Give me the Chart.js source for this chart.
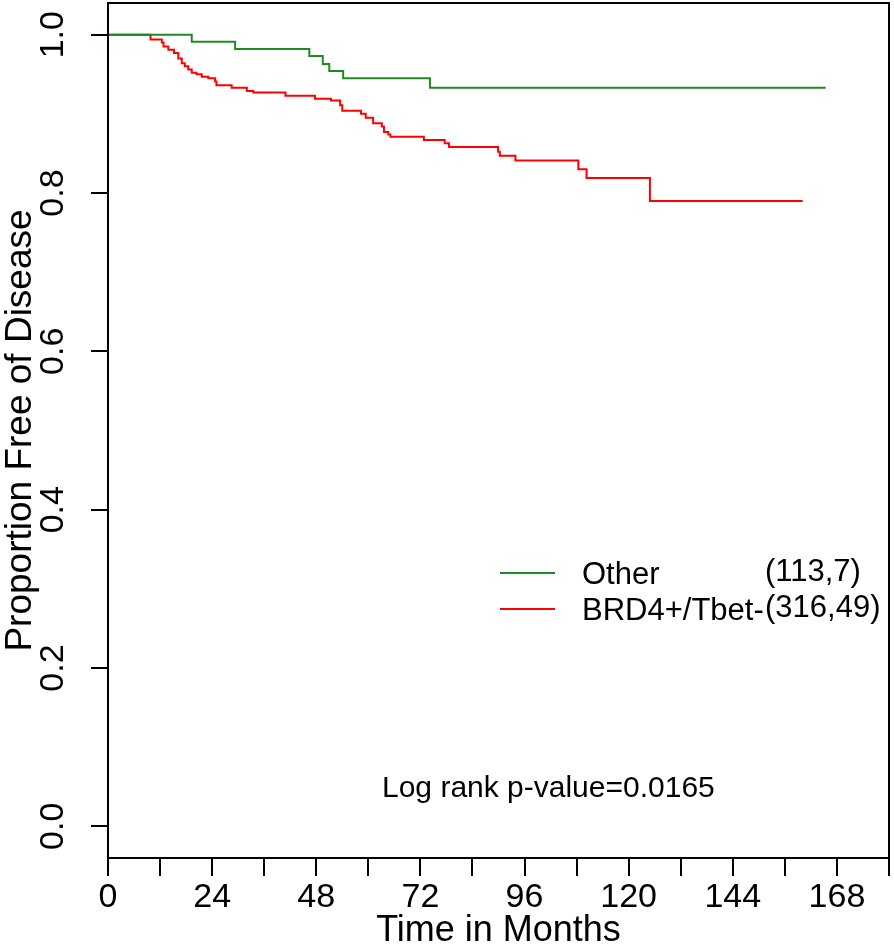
<!DOCTYPE html>
<html>
<head>
<meta charset="utf-8">
<title>Proportion Free of Disease</title>
<script src="https://cdn.jsdelivr.net/npm/chart.js@4.4.1/dist/chart.umd.min.js"></script>
<style>
    html, body { margin: 0; padding: 0; background: #ffffff; }
    canvas { display: block; }
</style>
</head>
<body>
<canvas id="kmChart" width="894" height="950"></canvas>
<script>
/* ==========================================================================
   Kaplan-Meier data: time in months, proportion free
   ========================================================================== */

const otherTimes = [0, 19.3, 29.3, 46.4, 49.5, 51.0, 54.2, 74.2, 165.4];
const otherSurv  = [1.0, 0.991, 0.982, 0.973, 0.963, 0.954, 0.945, 0.933, 0.933];

const brdTimes = [0, 9.8, 12.4, 12.8, 13.9, 15.2, 16.2, 17.0, 17.7, 18.5, 19.3,
                  20.4, 21.6, 23.1, 24.7, 25.0, 28.5, 32.0, 33.5, 40.9, 47.7,
                  51.4, 53.5, 54.0, 58.3, 59.4, 61.1, 63.1, 63.6, 64.6, 65.1,
                  72.8, 77.6, 78.6, 89.9, 90.3, 93.9, 108.4, 110.3, 124.9, 160.1];
const brdSurv  = [1.0, 0.994, 0.990, 0.985, 0.981, 0.977, 0.970, 0.964, 0.960, 0.956, 0.952,
                  0.950, 0.947, 0.945, 0.941, 0.936, 0.933, 0.929, 0.927, 0.923, 0.919,
                  0.917, 0.911, 0.904, 0.900, 0.895, 0.888, 0.884, 0.877, 0.874, 0.871,
                  0.867, 0.863, 0.858, 0.852, 0.847, 0.841, 0.830, 0.819, 0.790, 0.790];

const xTicks  = [0, 12, 24, 36, 48, 60, 72, 84, 96, 108, 120, 132, 144, 156, 168, 180];
const xLabels = [0, 24, 48, 72, 96, 120, 144, 168];
const yTicks  = [0, 0.2, 0.4, 0.6, 0.8, 1.0];

const groupNames  = ['Other', 'BRD4+/Tbet-'];
const groupCounts = ['(113,7)', '(316,49)'];
const groupColors = ['#1f8a1f', '#ff0000'];
const pValueText  = 'Log rank p-value=0.0165';

const FONT = '"Liberation Sans", Arial, Helvetica, sans-serif';

function toPoints(times, surv) {
    return times.map((t, i) => ({ x: t, y: surv[i] }));
}

/* ==========================================================================
   R-style box, labels, legend and annotation
   ========================================================================== */

const baseGraphics = {
    id: 'baseGraphics',
    afterDraw(chart) {
        const { ctx, chartArea: a, scales: { x, y } } = chart;
        ctx.save();

        // plot box
        ctx.strokeStyle = '#000';
        ctx.lineWidth = 2;
        ctx.strokeRect(a.left, a.top, a.right - a.left, a.bottom - a.top);

        ctx.fillStyle = '#000';

        // x tick labels
        ctx.font = '34px ' + FONT;
        ctx.textAlign = 'center';
        ctx.textBaseline = 'alphabetic';
        xLabels.forEach(v => ctx.fillText(String(v), x.getPixelForValue(v), 907));

        // y tick labels (rotated, parallel to axis)
        yTicks.forEach(v => {
            ctx.save();
            ctx.translate(63, y.getPixelForValue(v));
            ctx.rotate(-Math.PI / 2);
            ctx.textAlign = 'center';
            ctx.fillText(v.toFixed(1), 0, 0);
            ctx.restore();
        });

        // axis titles
        ctx.font = '36px ' + FONT;
        ctx.fillText('Time in Months', (a.left + a.right) / 2, 941);
        ctx.save();
        ctx.translate(31, (a.top + a.bottom) / 2);
        ctx.rotate(-Math.PI / 2);
        ctx.font = '37px ' + FONT;
        ctx.fillText('Proportion Free of Disease', 0, 0);
        ctx.restore();

        // legend
        ctx.font = '31px ' + FONT;
        ctx.textAlign = 'left';
        ctx.textBaseline = 'middle';
        const rowY = [573, 609];
        groupNames.forEach((name, i) => {
            ctx.strokeStyle = groupColors[i];
            ctx.lineWidth = 2;
            ctx.beginPath();
            ctx.moveTo(500, rowY[i]);
            ctx.lineTo(555, rowY[i]);
            ctx.stroke();
            ctx.fillText(name, 582, rowY[i] + 2);
            ctx.fillText(groupCounts[i], 765, rowY[i] - 1);
        });

        // p-value annotation
        ctx.font = '30px ' + FONT;
        ctx.textBaseline = 'alphabetic';
        ctx.fillText(pValueText, 382, 797);

        ctx.restore();
    }
};

/* ==========================================================================
   Chart
   ========================================================================== */

const axisLine = { display: true, color: '#000', width: 2 };

const kmChart = new Chart(document.getElementById('kmChart'), {
    type: 'line',
    data: {
        datasets: [{
            label: groupNames[0],
            data: toPoints(otherTimes, otherSurv),
            borderColor: groupColors[0],
            borderWidth: 2,
            stepped: 'before',
            pointRadius: 0,
            fill: false
        }, {
            label: groupNames[1],
            data: toPoints(brdTimes, brdSurv),
            borderColor: groupColors[1],
            borderWidth: 2,
            stepped: 'before',
            pointRadius: 0,
            fill: false
        }]
    },
    options: {
        responsive: false,
        animation: false,
        layout: {
            padding: { left: 91, right: 5, top: 3, bottom: 74 }
        },
        plugins: {
            legend: { display: false },
            tooltip: { enabled: false }
        },
        scales: {
            x: {
                type: 'linear',
                min: 0,
                max: 180,
                afterBuildTicks: scale => {
                    scale.ticks = xTicks.map(v => ({ value: v }));
                },
                ticks: { display: false },
                grid: {
                    drawOnChartArea: false,
                    drawTicks: true,
                    tickLength: 18,
                    color: '#000',
                    lineWidth: 2
                },
                border: axisLine
            },
            y: {
                type: 'linear',
                min: -0.04,
                max: 1.04,
                afterBuildTicks: scale => {
                    scale.ticks = yTicks.map(v => ({ value: v }));
                },
                ticks: { display: false },
                grid: {
                    drawOnChartArea: false,
                    drawTicks: true,
                    tickLength: 17,
                    color: '#000',
                    lineWidth: 2
                },
                border: axisLine
            }
        }
    },
    plugins: [baseGraphics]
});
</script>
</body>
</html>
